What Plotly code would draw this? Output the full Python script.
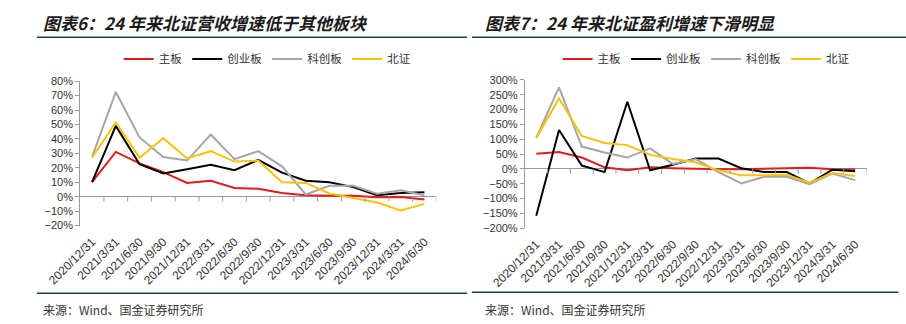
import plotly.graph_objects as go

# Reporting periods (quarter ends)
periods = ["2020/12/31", "2021/3/31", "2021/6/30", "2021/9/30", "2021/12/31",
           "2022/3/31", "2022/6/30", "2022/9/30", "2022/12/31", "2023/3/31",
           "2023/6/30", "2023/9/30", "2023/12/31", "2024/3/31", "2024/6/30"]

boards = ["主板", "创业板", "科创板", "北证"]
colors = ["#e31a1c", "#000000", "#a6a6a6", "#f2c40f"]

# Revenue growth by board (%)
rev_main = [10, 31, 23, 17, 9.5, 11, 6, 5.5, 2.6, 1, 0.7, 0.7, -0.4, -0.3, -2]
rev_gem = [10, 49, 22.5, 16, 19, 22, 18.3, 25.5, 16.6, 11, 10, 6.6, 1, 2.6, 3]
rev_star = [27.5, 72.5, 41, 27.5, 25, 43, 26, 31.5, 21, 1.5, 7.5, 7.5, 2, 4.4, 1]
rev_bse = [27, 51.5, 27, 40.5, 26.5, 31.5, 24.3, 25, 10, 9.5, 2.2, -1, -4, -9.5, -5]

# Net profit growth by board (%)
prf_main = [51, 57, 38, 5, -5, 5, 2, 0, -1, -1, 0, 3, 4, -1, -2]
prf_gem = [-158, 131, 11, -11, 226, -5, 14, 35, 35, 2, -11, -11, -49, -3, -8]
prf_star = [104, 275, 75, 55, 38, 69, 16, 33, -11, -49, -27, -27, -52, -16, -38]
prf_bse = [104, 237, 111, 87, 80, 47, 33, 22, -5, -22, -22, -20, -47, -14, -24]

rev_series = [rev_main, rev_gem, rev_star, rev_bse]
prf_series = [prf_main, prf_gem, prf_star, prf_bse]

W, H = 906, 324
TEXT = "#333333"
AXIS = "#9a9a9a"
RULE = "#1b3d49"
CJK = "Noto Sans CJK SC"
LATIN = "Liberation Sans"

fig = go.Figure()

for name, col, vals in zip(boards, colors, rev_series):
    fig.add_trace(go.Scatter(
        x=periods, y=[v / 100 for v in vals], name=name, mode="lines",
        line=dict(color=col, width=2), xaxis="x", yaxis="y", legend="legend"))

for name, col, vals in zip(boards, colors, prf_series):
    fig.add_trace(go.Scatter(
        x=periods, y=[v / 100 for v in vals], name=name, mode="lines",
        line=dict(color=col, width=2), xaxis="x2", yaxis="y2", legend="legend2"))


def px_x(v):
    return v / W


def px_y(v):
    return 1 - v / H


# plot areas (pixels)
left_box = dict(x0=48, x1=418, y0=78, y1=228)
right_box = dict(x0=510, x1=865, y0=76.7, y1=230.7)

xcommon = dict(type="category", showline=False, ticks="", showgrid=False,
               zeroline=False, tickangle=-45, ticklabelstandoff=6,
               tickfont=dict(family=LATIN, size=12, color=TEXT),
               range=[-0.5, len(periods) - 0.5])
ycommon = dict(showline=True, linecolor=AXIS, linewidth=1, ticks="outside",
               ticklen=4, tickcolor=AXIS, showgrid=False, zeroline=True,
               zerolinecolor=AXIS, zerolinewidth=1, tickformat=".0%",
               tickfont=dict(family=LATIN, size=11, color=TEXT))

legend_common = dict(orientation="h", xanchor="left", yanchor="middle",
                     font=dict(family=CJK, size=11.5, color=TEXT),
                     bgcolor="rgba(0,0,0,0)", itemwidth=30, tracegroupgap=0)

fig.update_layout(
    width=W, height=H, margin=dict(l=0, r=0, t=0, b=0),
    paper_bgcolor="white", plot_bgcolor="white",
    xaxis=dict(domain=[px_x(left_box["x0"]), px_x(left_box["x1"])], anchor="y", **xcommon),
    yaxis=dict(domain=[px_y(left_box["y1"]), px_y(left_box["y0"])], anchor="x",
               range=[-0.2, 0.8], dtick=0.1, **ycommon),
    xaxis2=dict(domain=[px_x(right_box["x0"]), px_x(right_box["x1"])], anchor="y2", **xcommon),
    yaxis2=dict(domain=[px_y(right_box["y1"]), px_y(right_box["y0"])], anchor="x2",
                range=[-2, 3], dtick=0.5, **ycommon),
    legend=dict(x=px_x(88), y=px_y(55), **legend_common),
    legend2=dict(x=px_x(544), y=px_y(55), **legend_common),
    showlegend=True,
)

shapes = []
# category boundary ticks on the zero line
for xa, ya in (("x", "y"), ("x2", "y2")):
    ymin = -0.2 if ya == "y" else -2
    ymax = 0.8 if ya == "y" else 3
    span_px = 150 if ya == "y" else 154
    tick = (ymax - ymin) * 5 / span_px
    for i in range(len(periods)):
        shapes.append(dict(type="line", xref=xa, yref=ya, x0=i + 0.5, x1=i + 0.5,
                           y0=0, y1=-tick, line=dict(color=AXIS, width=1)))

# header and footer rules
for x0, x1, y in ((3, 450, 32.5), (455, 906, 32.5), (3, 450, 298.3), (455, 898, 297.3)):
    shapes.append(dict(type="line", xref="paper", yref="paper",
                       x0=px_x(x0), x1=px_x(x1), y0=px_y(y), y1=px_y(y),
                       line=dict(color=RULE, width=1.5)))
fig.update_layout(shapes=shapes)

annotations = []
for x, text in ((7, "图表6：24 年来北证营收增速低于其他板块"),
                (467, "图表7：24 年来北证盈利增速下滑明显")):
    annotations.append(dict(xref="paper", yref="paper", x=px_x(x), y=px_y(17),
                            xanchor="left", yanchor="middle", showarrow=False,
                            text="<b><i>" + text + "</i></b>",
                            font=dict(family=CJK, size=17, color="#1a1a1a")))
for x in (7, 467):
    annotations.append(dict(xref="paper", yref="paper", x=px_x(x), y=px_y(315),
                            xanchor="left", yanchor="middle", showarrow=False,
                            text="来源：Wind、国金证券研究所",
                            font=dict(family=CJK, size=12, color=TEXT)))
fig.update_layout(annotations=annotations)

fig.write_html("out.html")
